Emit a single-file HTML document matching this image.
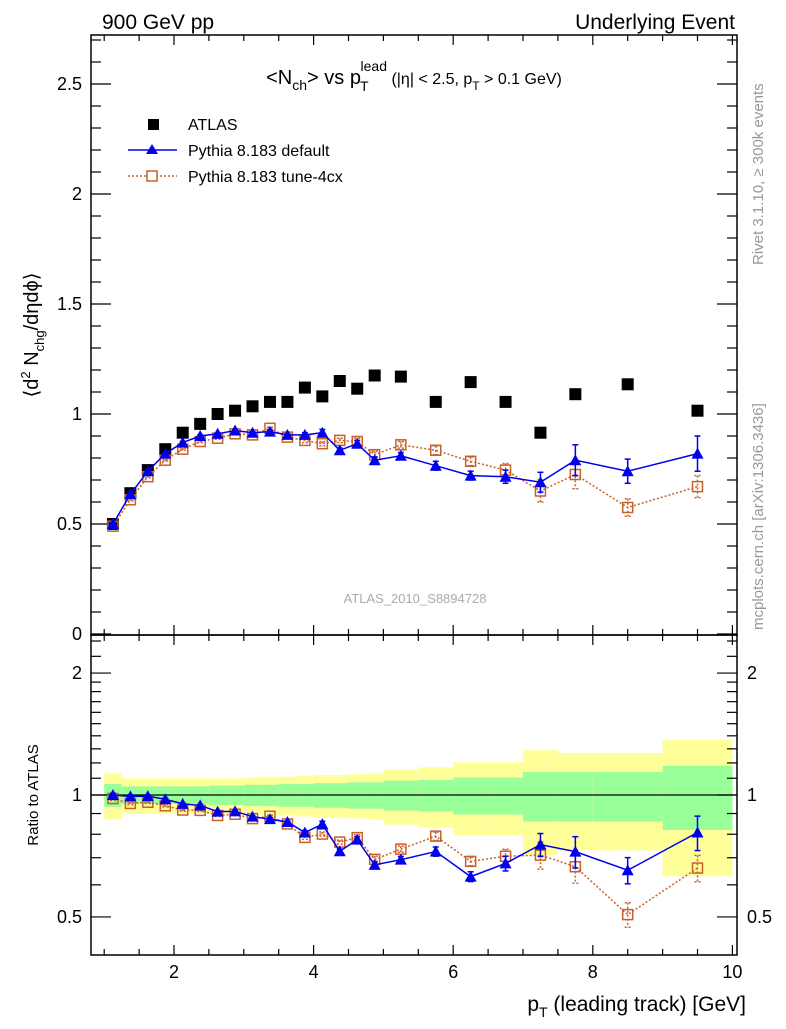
<!DOCTYPE html>
<html><head><meta charset="utf-8"><style>
body{margin:0;background:#fff;}
svg text{font-family:"Liberation Sans",sans-serif;}
</style></head><body>
<svg id="c" width="786" height="1024" xmlns="http://www.w3.org/2000/svg">
<text x="102" y="29" font-size="21">900 GeV pp</text>
<text x="735" y="29" font-size="21" text-anchor="end">Underlying Event</text>
<text x="414" y="84" font-size="20" text-anchor="middle">&lt;N<tspan font-size="14" dy="6">ch</tspan><tspan dy="-6">&gt; vs p</tspan><tspan font-size="14" dy="7" dx="-1">T</tspan><tspan font-size="14" dy="-20" dx="-8">lead</tspan><tspan font-size="16" dy="13"> (|η| &lt; 2.5, p</tspan><tspan font-size="12" dy="6">T</tspan><tspan font-size="16" dy="-6"> &gt; 0.1 GeV)</tspan></text>
<g>
<rect x="148" y="119" width="11" height="11" fill="#000"/>
<text x="188" y="130" font-size="16">ATLAS</text>
<line x1="128" y1="150" x2="177" y2="150" stroke="#0000ee" stroke-width="1.5"/>
<polygon points="152,144 158,154 146,154" fill="#0000ee"/>
<text x="188" y="156" font-size="16">Pythia 8.183 default</text>
<line x1="128" y1="176" x2="177" y2="176" stroke="#c8602a" stroke-width="1.5" stroke-dasharray="2,2"/>
<rect x="147" y="171" width="10" height="10" fill="#fff" stroke="#c8602a" stroke-width="1.5"/>
<text x="188" y="182" font-size="16">Pythia 8.183 tune-4cx</text>
</g>
<text x="415" y="603" font-size="13" fill="#aaa" text-anchor="middle">ATLAS_2010_S8894728</text>
<text transform="translate(763,265) rotate(-90)" font-size="15" fill="#999">Rivet 3.1.10, ≥ 300k events</text>
<text transform="translate(763,630) rotate(-90)" font-size="15" fill="#999">mcplots.cern.ch [arXiv:1306.3436]</text>
<text transform="translate(38,335) rotate(-90)" font-size="20" text-anchor="middle">⟨d<tspan font-size="13" dy="-8">2</tspan><tspan dy="8"> N</tspan><tspan font-size="13" dy="6">chg</tspan><tspan dy="-6">/dηdϕ⟩</tspan></text>
<text transform="translate(38,795) rotate(-90)" font-size="15" text-anchor="middle">Ratio to ATLAS</text>
<text x="746" y="1011" font-size="21" text-anchor="end">p<tspan font-size="14" dy="6">T</tspan><tspan dy="-6"> (leading track) [GeV]</tspan></text>
<g id="main"></g><g id="ratio"></g>
</svg>
<script>
const xs=[1.125,1.375,1.625,1.875,2.125,2.375,2.625,2.875,3.125,3.375,3.625,3.875,4.125,4.375,4.625,4.875,5.25,5.75,6.25,6.75,7.25,7.75,8.5,9.5];
const xLo=[1,1.25,1.5,1.75,2,2.25,2.5,2.75,3,3.25,3.5,3.75,4,4.25,4.5,4.75,5,5.5,6,6.5,7,7.5,8,9];
const xHi=[1.25,1.5,1.75,2,2.25,2.5,2.75,3,3.25,3.5,3.75,4,4.25,4.5,4.75,5,5.5,6,6.5,7,7.5,8,9,10];
const atlas=[0.50,0.64,0.745,0.84,0.915,0.955,1.0,1.015,1.035,1.055,1.055,1.12,1.08,1.15,1.115,1.175,1.17,1.055,1.145,1.055,0.915,1.09,1.135,1.015];
const yellowErr=[0.13,0.10,0.10,0.10,0.10,0.10,0.10,0.10,0.105,0.11,0.11,0.115,0.12,0.12,0.125,0.13,0.155,0.17,0.205,0.205,0.29,0.27,0.27,0.37];
const greenErr=[0.065,0.05,0.05,0.05,0.05,0.05,0.055,0.055,0.06,0.06,0.065,0.065,0.07,0.07,0.075,0.075,0.085,0.09,0.105,0.105,0.14,0.14,0.14,0.18];
const pyDef=[0.50,0.635,0.74,0.82,0.87,0.90,0.91,0.925,0.915,0.92,0.905,0.905,0.915,0.835,0.865,0.79,0.81,0.765,0.72,0.715,0.69,0.79,0.74,0.82];
const pyDefErr=[0.005,0.005,0.005,0.005,0.005,0.005,0.005,0.005,0.005,0.005,0.005,0.01,0.015,0.01,0.015,0.015,0.015,0.02,0.02,0.03,0.045,0.07,0.055,0.08];
const pyTune=[0.49,0.61,0.715,0.79,0.84,0.875,0.89,0.91,0.905,0.935,0.895,0.88,0.865,0.88,0.875,0.815,0.86,0.835,0.785,0.745,0.65,0.725,0.575,0.67];
const pyTuneErr=[0.005,0.005,0.005,0.005,0.005,0.005,0.005,0.005,0.005,0.005,0.005,0.01,0.01,0.01,0.015,0.015,0.015,0.02,0.02,0.03,0.05,0.065,0.04,0.05];
const mainTicks=[0.5,1,1.5,2,2.5];
const ratioTicks=[0.5,1,2];
const xTicks=[2,4,6,8,10];

const NS="http://www.w3.org/2000/svg";
const L=91,R=737,T1=35,B1=635,T2=635,B2=955;
const X=v=>34.4+69.8*v;
const Y=v=>634-220*v;
const YR=v=>795-405*Math.log10(v);
function mk(p,tag,a){const e=document.createElementNS(NS,tag);for(const k in a)e.setAttribute(k,a[k]);p.appendChild(e);return e;}
const main=document.getElementById('main'),ratio=document.getElementById('ratio');

// ratio bands
xs.forEach((x,i)=>{
 let r=mk(ratio,'rect',{x:X(xLo[i]),y:YR(1+yellowErr[i]),width:X(xHi[i])-X(xLo[i]),height:YR(1-yellowErr[i])-YR(1+yellowErr[i]),fill:'#ffff99'});
 
 
 let g=mk(ratio,'rect',{x:X(xLo[i]),y:YR(1+greenErr[i]),width:X(xHi[i])-X(xLo[i]),height:YR(1-greenErr[i])-YR(1+greenErr[i]),fill:'#99ff99'});
 
 
});
mk(ratio,'line',{x1:L,x2:R,y1:YR(1),y2:YR(1),stroke:'#000','stroke-width':1.3});

// frames
for(const [t,b] of [[T1,B1],[T2,B2]]){
 let f=mk(t===T1?main:ratio,'rect',{x:L,y:t,width:R-L,height:b-t,fill:'none',stroke:'#000','stroke-width':1.5});
 
 
}
// x ticks
for(let v=1;v<=10.01;v+=0.5){
 const maj=Math.abs(v-Math.round(v/2)*2)<1e-6;const len=maj?10:6;
 for(const [t,b] of [[T1,B1],[T2,B2]]){
  mk(main,'line',{x1:X(v),x2:X(v),y1:b,y2:b-len,stroke:'#000','stroke-width':1.2});
  mk(main,'line',{x1:X(v),x2:X(v),y1:t,y2:t+len,stroke:'#000','stroke-width':1.2});
 }
}
xTicks.forEach(v=>{let t=mk(ratio,'text',{x:X(v),y:978,'font-size':18,'text-anchor':'middle'});t.textContent=v;
 
 });
// main y ticks
for(let k=0;k<=27;k++){const v=k/10,maj=k%5===0,len=maj?20:10,y=Y(v);
 mk(main,'line',{x1:L,x2:L+len,y1:y,y2:y,stroke:'#000','stroke-width':1.2});
 mk(main,'line',{x1:R,x2:R-len,y1:y,y2:y,stroke:'#000','stroke-width':1.2});}
mainTicks.concat([0]).forEach(v=>{let t=mk(main,'text',{x:82,y:Y(v)+6,'font-size':18,'text-anchor':'end'});t.textContent=v===0?'0':v;
 
 });
// ratio y ticks
[0.5,0.6,0.7,0.8,0.9,1,1.1,1.2,1.3,1.4,1.5,1.6,1.7,1.8,1.9,2,2.2,2.4].forEach(v=>{
 const maj=ratioTicks.includes(v),len=maj?20:10,y=YR(v);
 mk(ratio,'line',{x1:L,x2:L+len,y1:y,y2:y,stroke:'#000','stroke-width':1.2});
 mk(ratio,'line',{x1:R,x2:R-len,y1:y,y2:y,stroke:'#000','stroke-width':1.2});});
ratioTicks.forEach(v=>{for(const [x,a] of [[82,'end'],[747,'start']]){let t=mk(ratio,'text',{x:x,y:YR(v)+6,'font-size':18,'text-anchor':a});t.textContent=v;
 
 }});

function series(g,Yf,vals,errs,col,dash,shape,name){
 mk(g,'polyline',{points:xs.map((x,i)=>X(x)+','+Yf(vals[i])).join(' '),fill:'none',stroke:col,'stroke-width':1.5,'stroke-dasharray':dash});
 xs.forEach((x,i)=>{
  const px=X(x),py=Yf(vals[i]);
  const e1=Yf(vals[i]+errs[i]),e2=Yf(Math.max(vals[i]-errs[i],0.01));
  mk(g,'line',{x1:px,x2:px,y1:e1,y2:e2,stroke:col,'stroke-width':1.5,'stroke-dasharray':dash});
  mk(g,'line',{x1:px-3,x2:px+3,y1:e1,y2:e1,stroke:col,'stroke-width':1.5,'stroke-dasharray':dash});
  mk(g,'line',{x1:px-3,x2:px+3,y1:e2,y2:e2,stroke:col,'stroke-width':1.5,'stroke-dasharray':dash});
  let m;
  if(shape==='tri') m=mk(g,'polygon',{points:`${px},${py-6} ${px+6},${py+5} ${px-6},${py+5}`,fill:col});
  else m=mk(g,'rect',{x:px-5,y:py-5,width:10,height:10,fill:'none',stroke:col,'stroke-width':1.5});
  
  
 });
}
// main
xs.forEach((x,i)=>{let r=mk(main,'rect',{x:X(x)-6,y:Y(atlas[i])-6,width:12,height:12,fill:'#000'});
 
 });
series(main,Y,pyTune,pyTuneErr,'#c8602a','2,2','sq','tune-point');
series(main,Y,pyDef,pyDefErr,'#0000ee','','tri','default-point');
// ratio
const rTune=pyTune.map((v,i)=>v/atlas[i]),rTuneE=pyTuneErr.map((v,i)=>v/atlas[i]);
const rDef=pyDef.map((v,i)=>v/atlas[i]),rDefE=pyDefErr.map((v,i)=>v/atlas[i]);
series(ratio,YR,rTune,rTuneE,'#c8602a','2,2','sq','tune-ratio-point');
series(ratio,YR,rDef,rDefE,'#0000ee','','tri','default-ratio-point');
</script>
</body></html>
